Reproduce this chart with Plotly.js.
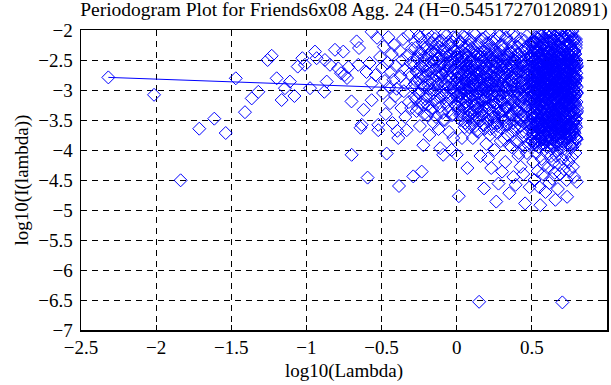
<!DOCTYPE html>
<html>
<head>
<meta charset="utf-8">
<script src="https://cdn.plot.ly/plotly-3.0.1.min.js"></script>
<style>html,body{margin:0;padding:0;background:#fff;}#chart{width:611px;height:385px;}</style>
</head>
<body>
<div id="chart"></div>
<script>
// Periodogram points, log10(Lambda) vs log10(I(lambda))
const lowX = [-2.318,-2.014,-1.837,-1.713,-1.613,-1.537,-1.47,-1.409,-1.364,-1.32,-1.258,-1.231,-1.198,-1.165,-1.143,-1.11,-1.08,-1.058,-1.027,-1.01,-0.976,-0.943,-0.932,-0.881,-0.865,-0.877,-0.843,-0.81,-0.788,-0.77,-0.755,-0.745,-0.73,-0.72,-0.7,-0.699,-0.666,-0.65,-0.655,-0.62,-0.632,-0.64,-0.593,-0.6,-0.58,-0.566,-0.566,-0.566,-0.54,-0.53,-0.522,-0.522,-0.51];
const lowY = [-2.79,-3.08,-4.505,-3.645,-3.478,-3.717,-2.805,-3.37,-3.14,-3.03,-2.5,-2.43,-2.805,-3.167,-2.97,-2.86,-3.1,-2.61,-2.47,-2.58,-2.97,-2.36,-2.47,-3.03,-2.86,-2.5,-2.58,-2.33,-2.64,-2.72,-2.36,-2.75,-2.8,-2.62,-3.19,-4.08,-2.19,-2.3,-2.58,-3.33,-3.58,-3.63,-4.46,-2.7,-2.55,-2.03,-2.89,-3.17,-2.75,-2.13,-3.58,-3.67,-2.45];

const midX = [-0.495,-0.49,-0.484,-0.478,-0.472,-0.466,-0.46,-0.455,-0.449,-0.444,-0.438,-0.432,-0.427,-0.421,-0.416,-0.41,-0.405,-0.4,-0.395,-0.389,-0.384,-0.378,-0.373,-0.368,-0.362,-0.357,-0.352,-0.347,-0.342,-0.337,-0.333,-0.327,-0.322,-0.318,-0.313,-0.308,-0.303,-0.299,-0.294,-0.289,-0.285,-0.28,-0.276,-0.271,-0.267,-0.262,-0.258,-0.254,-0.249,-0.245,-0.241,-0.237,-0.233,-0.229,-0.225,-0.222,-0.217,-0.213,-0.209,-0.205,-0.201,-0.197,-0.193,-0.189,-0.186,-0.182,-0.178,-0.174,-0.171,-0.167,-0.163,-0.16,-0.156,-0.153,-0.149,-0.145,-0.142,-0.138,-0.135,-0.131,-0.128,-0.124,-0.121,-0.118,-0.114,-0.11,-0.107,-0.104,-0.1,-0.097,-0.094,-0.09,-0.087,-0.084,-0.081,-0.078,-0.074,-0.071,-0.068,-0.065,-0.062,-0.059,-0.056,-0.053,-0.05,-0.047,-0.044,-0.041,-0.038,-0.034,-0.031,-0.028,-0.025,-0.023,-0.02,-0.017,-0.014,-0.011,-0.008,-0.005,-0.002,0.0];
const midY = [-2.62,-3.05,-2.28,-2.85,-3.4,-4.06,-2.55,-2.12,-2.95,-3.22,-2.7,-2.4,-3.55,-2.83,-2.25,-3.1,-2.6,-2.98,-3.68,-3.8,-4.6,-2.35,-2.77,-3.3,-2.5,-2.15,-3.02,-2.66,-3.45,-2.9,-3.67,-2.42,-2.08,-3.2,-2.73,-2.55,-3.3,-2.31,-2.95,-4.44,-2.6,-3.12,-2.2,-2.85,-3.35,-2.48,-2.7,-3.05,-2.38,-3.6,-2.12,-2.9,-4.36,-2.62,-3.25,-3.92,-2.45,-2.78,-3.15,-2.3,-2.58,-3.42,-2.05,-2.92,-2.68,-3.75,-2.4,-3.08,-2.55,-2.22,-3.3,-2.82,-2.5,-3.55,-2.66,-2.15,-3.0,-2.36,-2.76,-3.2,-2.48,-2.9,-3.65,-2.28,-2.6,-3.97,-3.12,-2.42,-2.72,-2.18,-3.38,-4.08,-2.56,-2.95,-2.32,-3.5,-2.68,-2.1,-3.05,-2.45,-2.84,-3.28,-2.6,-2.25,-3.7,-2.78,-2.4,-3.15,-2.52,-4.0,-2.9,-2.2,-3.4,-3.8,-2.65,-2.35,-3.02,-2.55,-3.25,-2.12,-2.8,-4.08];
// second set of ordinates for the upper part of midX (denser band near 0)
const midY2 = [-2.55,-2.9,-2.3,-3.15,-2.7,-2.45,-3.3,-2.1,-2.82,-3.05,
 -2.6,-2.38,-3.2,-2.75,-2.2,-2.95,-3.4,-2.5,-2.68,-3.1,
 -2.28,-2.85,-3.25,-2.42,-2.15,-2.98,-2.62,-3.35,-2.72,-2.35,
 -3.0,-2.52,-2.88,-2.08,-3.18,-2.65,-2.4,-3.45,-2.78,-2.25,
 -2.92,-3.12,-2.48,-2.7,-2.18,-3.28,-2.58,-2.85,-3.02,-2.32,
 -2.75,-3.5,-2.45,-2.62,-2.05,-3.08,-2.9,-2.38,-3.22,-2.68,
 -2.55,-2.95,-2.2,-3.35,-2.8,-2.42,-3.15,-2.6,-2.3,-2.98,
 -3.42,-2.72,-2.5,-2.12,-3.05,-2.85,-2.35,-3.25,-2.65,-2.88,
 -2.45,-3.1];

const upX = [0.005,0.008,0.011,0.014,0.017,0.02,0.023,0.026,0.029,0.032,0.035,0.038,0.041,0.044,0.047,0.05,0.053,0.056,0.059,0.062,0.065,0.068,0.071,0.074,0.077,0.08,0.083,0.086,0.089,0.092,0.095,0.098,0.101,0.104,0.107,0.11,0.113,0.116,0.119,0.122,0.125,0.128,0.131,0.134,0.137,0.14,0.143,0.146,0.149,0.152,0.155,0.158,0.161,0.164,0.167,0.17,0.173,0.176,0.179,0.182,0.185,0.188,0.191,0.194,0.197,0.2,0.203,0.206,0.209,0.212,0.215,0.218,0.221,0.224,0.227,0.23,0.233,0.236,0.239,0.242,0.245,0.248,0.251,0.254,0.257,0.26,0.263,0.266,0.269,0.272,0.275,0.278,0.281,0.284,0.287,0.29,0.293,0.296,0.299,0.302,0.305,0.308,0.311,0.314,0.317,0.32,0.323,0.326,0.329,0.332,0.335,0.338,0.341,0.344,0.347,0.35,0.353,0.356,0.359,0.362,0.365,0.368,0.371,0.374,0.377,0.38,0.383,0.386,0.389,0.392,0.395,0.398,0.401,0.404,0.407,0.41,0.413,0.416,0.419,0.422,0.425,0.428,0.431,0.434,0.437,0.44,0.443,0.446,0.449,0.452,0.455,0.458,0.461,0.464,0.467,0.47,0.473,0.476,0.479,0.482,0.485,0.488,0.491,0.494,0.497,0.5];
const upY = [-2.72,-3.15,-2.38,-4.77,-2.9,-2.55,-3.42,-2.2,-3.05,-2.65,
 -3.8,-2.45,-2.98,-2.3,-3.3,-2.75,-2.12,-3.55,-2.6,-2.88,
 -3.2,-2.42,-4.3,-2.7,-3.02,-2.25,-3.62,-2.52,-2.95,-2.18,
 -3.38,-2.8,-2.48,-3.1,-3.8,-2.62,-2.35,-3.25,-2.9,-2.08,
 -3.48,-2.7,-2.55,-3.05,-3.3,-2.4,-3.7,-2.85,-6.53,-3.18,
 -2.6,-4.1,-2.98,-2.45,-3.35,-2.15,-2.78,-3.58,-2.52,-4.64,
 -2.92,-2.32,-3.12,-2.68,-3.9,-2.22,-3.02,-2.58,-4.14,-2.85,
 -3.3,-2.42,-2.05,-3.65,-2.75,-4.3,-2.5,-3.08,-2.9,-2.3,
 -3.45,-2.62,-4.0,-2.8,-2.18,-3.22,-4.86,-2.55,-2.95,-3.6,
 -2.38,-4.56,-2.7,-3.15,-2.1,-2.48,-3.85,-2.88,-3.35,-4.36,
 -2.6,-2.25,-3.05,-2.78,-3.52,-2.42,-4.2,-2.95,-2.15,-3.28,
 -2.68,-3.75,-2.5,-2.02,-3.1,-4.72,-2.82,-2.35,-3.42,-2.6,
 -3.95,-2.72,-2.28,-3.18,-4.45,-2.9,-2.5,-3.62,-2.12,-4.58,
 -2.8,-3.3,-2.4,-3.88,-2.65,-4.1,-2.98,-2.22,-3.5,-2.7,
 -4.28,-2.55,-3.08,-2.35,-3.7,-2.85,-4.4,-2.6,-3.25,-2.18,
 -4.89,-2.92,-3.45,-2.48,-4.05,-2.75,-3.15,-2.3,-3.92,-2.62,
 -4.62,-3.02,-2.45,-3.58,-2.2,-2.85];
const upY2 = [-2.45,-2.95,-3.3,-2.6,-2.2,-3.05,-2.78,-3.5,-2.35,-2.88,
 -3.15,-2.52,-2.1,-3.4,-2.7,-2.98,-3.62,-2.4,-2.82,-3.2,
 -2.58,-2.28,-3.1,-3.45,-2.65,-2.92,-2.15,-3.35,-2.75,-2.5,
 -3.0,-3.58,-2.3,-2.85,-2.62,-3.25,-2.05,-2.95,-3.4,-2.55,
 -2.8,-3.12,-2.38,-3.68,-2.7,-2.25,-3.05,-2.9,-3.3,-2.45,
 -3.52,-2.68,-2.18,-3.0,-2.82,-3.42,-2.5,-3.18,-2.35,-2.95,
 -3.65,-2.6,-2.12,-3.28,-2.75,-3.02,-2.4,-3.48,-2.88,-2.22,
 -3.15,-2.65,-3.75,-2.52,-2.98,-2.3,-3.35,-2.72,-3.08,-2.48,
 -2.15,-3.55,-2.85,-2.62,-3.22,-2.38,-3.0,-3.7,-2.55,-2.92,
 -2.08,-3.38,-2.78,-3.1,-2.45,-3.62,-2.68,-2.25,-3.2,-2.9,
 -3.45,-2.58,-3.05,-2.32,-3.82,-2.75,-2.5,-3.3,-2.12,-2.95,
 -3.58,-2.65,-3.15,-2.4,-2.85,-3.92,-2.2,-3.0,-2.6,-3.4,
 -2.78,-3.25,-2.48,-3.68,-2.05,-2.92,-3.1,-2.55,-3.5,-2.35,
 -3.85,-2.72,-3.02,-2.28,-3.35,-2.62,-4.05,-2.88,-3.2,-2.45,
 -3.6,-2.15,-2.98,-3.78,-2.52,-3.12,-2.7,-3.45,-2.32,-3.95,
 -2.82,-3.05,-2.58,-3.72,-2.1,-3.28,-2.65,-3.55,-2.4,-3.88,
 -2.95,-3.18,-2.5,-3.65,-2.22,-3.02];
const upY3 = [-2.8,-3.1,-2.55,-3.35,-2.7,-2.95,-3.2,-2.45,-3.05,-2.62,
 -3.42,-2.75,-2.9,-3.15,-2.5,-3.3,-2.68,-2.85,-3.55,-2.4,
 -3.0,-2.78,-3.25,-2.58,-2.95,-3.45,-2.35,-3.12,-2.72,-2.88,
 -3.38,-2.52,-3.02,-2.65,-3.5,-2.82,-2.42,-3.18,-2.92,-3.6,
 -2.6,-3.08,-2.75,-3.32,-2.48,-2.98,-3.22,-2.7,-3.48,-2.38,
 -2.85,-3.12,-2.58,-3.4,-2.78,-3.0,-2.5,-3.28,-2.65,-3.58,
 -2.9,-2.45,-3.15,-2.72,-3.35,-2.6,-3.05,-2.82,-3.52,-2.32,
 -2.98,-3.25,-2.55,-3.42,-2.75,-3.1,-2.88,-2.4,-3.62,-2.68,
 -3.2,-2.52,-3.02,-2.8,-3.45,-2.62,-2.92,-3.3,-2.45,-3.55,
 -2.7,-3.08,-2.85,-3.38,-2.58,-3.18,-2.35,-3.0,-2.78,-3.5,
 -2.65,-3.22,-2.95,-2.48,-3.35,-2.82,-3.12,-2.6,-3.6,-2.72,
 -3.05,-2.42,-3.28,-2.9,-3.48,-2.55,-3.15,-2.75,-2.38,-3.4,
 -2.85,-3.02,-2.62,-3.55,-2.7,-3.2,-2.5,-3.32,-2.98,-2.8,
 -3.45,-2.58,-3.1,-2.68,-3.62,-2.4,-3.25,-2.88,-3.05,-2.52,
 -3.38,-2.75,-2.95,-3.5,-2.6,-3.15,-2.82,-3.42,-2.45,-3.0,
 -2.7,-3.28,-2.55,-3.58,-2.9,-3.08,-2.65,-3.35,-2.78,-3.2,
 -2.48,-3.52,-2.85,-3.12,-2.62,-3.4];

const topX = [0.502,0.5035,0.505,0.5065,0.508,0.5095,0.511,0.5125,0.514,0.5155,
 0.517,0.5185,0.52,0.5215,0.523,0.5245,0.526,0.5275,0.529,0.5305,
 0.532,0.5335,0.535,0.5365,0.538,0.5395,0.541,0.5425,0.544,0.5455,
 0.547,0.5485,0.55,0.5515,0.553,0.5545,0.556,0.5575,0.559,0.5605,
 0.562,0.5635,0.565,0.5665,0.568,0.5695,0.571,0.5725,0.574,0.5755,
 0.577,0.5785,0.58,0.5815,0.583,0.5845,0.586,0.5875,0.589,0.5905,
 0.592,0.5935,0.595,0.5965,0.598,0.5995,0.601,0.6025,0.604,0.6055,
 0.607,0.6085,0.61,0.6115,0.613,0.6145,0.616,0.6175,0.619,0.6205,
 0.622,0.6235,0.625,0.6265,0.628,0.6295,0.631,0.6325,0.634,0.6355,
 0.637,0.6385,0.64,0.6415,0.643,0.6445,0.646,0.6475,0.649,0.6505,
 0.652,0.6535,0.655,0.6565,0.658,0.6595,0.661,0.6625,0.664,0.6655,
 0.667,0.6685,0.67,0.6715,0.673,0.6745,0.676,0.6775,0.679,0.6805,
 0.682,0.6835,0.685,0.6865,0.688,0.6895,0.691,0.6925,0.694,0.6955,
 0.697,0.6985,0.7,0.7015,0.703,0.7045,0.706,0.7075,0.709,0.7105,
 0.712,0.7135,0.715,0.7165,0.718,0.7195,0.721,0.7225,0.724,0.7255,
 0.727,0.7285,0.73,0.7315,0.733,0.7345,0.736,0.7375,0.739,0.7405,
 0.742,0.7435,0.745,0.7465,0.748,0.7495,0.751,0.7525,0.754,0.7555,
 0.757,0.7585,0.76,0.7615,0.763,0.7645,0.766,0.7675,0.769,0.7705,
 0.772,0.7735,0.775,0.7765,0.778,0.7795,0.781,0.7825,0.784,0.7855,
 0.787,0.7885,0.79,0.7915,0.793,0.7945,0.796,0.7975,0.799,0.8005];
const topY = [-2.85,-3.4,-2.3,-3.72,-2.6,-4.2,-3.05,-2.45,-3.55,-2.75,
 -4.5,-2.95,-2.2,-3.3,-2.68,-3.85,-2.5,-3.12,-4.05,-2.38,
 -3.6,-2.82,-2.15,-3.45,-4.35,-2.7,-3.2,-2.55,-3.95,-2.9,
 -2.42,-3.65,-4.62,-3.0,-2.28,-3.5,-4.92,-2.62,-3.8,-2.78,
 -3.25,-2.1,-4.15,-2.95,-3.58,-2.48,-3.9,-2.72,-4.4,-3.1,
 -2.35,-3.7,-2.88,-4.25,-2.58,-3.38,-2.05,-3.82,-2.68,-4.7,
 -3.15,-2.45,-3.6,-2.92,-4.05,-2.25,-3.48,-2.78,-3.95,-2.55,
 -4.3,-3.02,-2.38,-3.75,-2.65,-3.28,-4.55,-2.12,-3.55,-2.85,
 -3.88,-2.5,-3.18,-2.02,-4.1,-2.75,-3.42,-2.3,-3.68,-4.48,
 -2.6,-3.08,-2.18,-3.92,-2.82,-3.35,-4.2,-2.48,-3.62,-2.95,
 -4.38,-2.4,-3.22,-4.83,-2.7,-3.78,-2.08,-3.5,-2.88,-4.02,
 -2.55,-3.12,-3.85,-2.28,-4.65,-2.98,-3.4,-2.15,-3.7,-2.62,
 -4.25,-2.8,-3.55,-2.35,-3.05,-4.4,-2.0,-3.3,-2.72,-3.9,
 -2.45,-3.65,-2.9,-4.15,-6.54,-2.58,-3.2,-2.12,-3.82,-2.68,
 -3.45,-4.32,-2.25,-3.0,-2.78,-3.72,-2.05,-4.08,-2.52,-3.35,
 -2.9,-3.6,-2.18,-4.5,-3.15,-4.78,-2.62,-3.88,-2.38,-3.25,
 -2.72,-4.2,-2.1,-3.52,-2.95,-3.78,-2.42,-4.35,-3.08,-2.25,
 -3.62,-2.6,-3.95,-2.02,-3.3,-4.12,-2.82,-3.45,-2.15,-3.75,
 -2.5,-4.28,-3.1,-2.35,-3.68,-2.88,-4.45,-3.2,-2.65,-3.9,
 -2.4,-3.55,-4.05,-2.78,-3.02,-2.2,-3.8,-2.55,-4.53,-3.3];
const topY2 = [-2.62,-3.15,-2.38,-3.48,-2.9,-3.72,-2.2,-3.05,-2.75,-3.38,
 -2.5,-3.88,-2.95,-2.3,-3.2,-2.68,-3.6,-2.12,-3.02,-3.42,
 -2.8,-2.45,-3.75,-3.1,-2.58,-3.3,-2.05,-2.88,-3.55,-2.7,
 -3.95,-2.35,-3.08,-2.78,-3.5,-2.18,-3.25,-2.6,-3.82,-2.92,
 -2.4,-3.62,-2.85,-3.18,-2.25,-3.45,-2.72,-3.0,-3.7,-2.52,
 -3.12,-2.88,-2.15,-3.58,-2.65,-3.9,-2.42,-3.22,-2.98,-2.3,
 -3.68,-2.55,-3.35,-2.08,-2.8,-3.48,-3.05,-2.62,-3.85,-2.38,
 -3.15,-2.75,-3.6,-2.22,-3.0,-2.5,-3.4,-2.92,-3.78,-2.68,
 -2.1,-3.28,-2.85,-3.55,-2.45,-3.1,-3.98,-2.58,-2.32,-3.65,
 -2.95,-3.2,-2.72,-3.42,-2.15,-3.82,-2.6,-3.05,-2.4,-3.5,
 -2.78,-3.7,-2.28,-3.18,-2.9,-3.35,-2.52,-4.1,-2.65,-3.02,
 -2.35,-3.58,-2.82,-3.25,-2.05,-3.9,-2.7,-3.12,-2.48,-3.45,
 -3.75,-2.58,-2.98,-3.32,-2.2,-3.62,-2.88,-2.42,-3.08,-3.52,
 -2.62,-3.85,-2.3,-3.15,-2.78,-3.4,-2.12,-2.95,-3.68,-2.55,
 -3.22,-2.85,-3.98,-2.38,-3.05,-2.68,-3.55,-2.18,-3.3,-2.92,
 -2.48,-3.72,-3.0,-2.6,-3.45,-2.25,-3.18,-2.8,-3.88,-2.4,
 -3.1,-2.72,-3.6,-2.02,-3.28,-2.9,-3.5,-2.55,-3.8,-2.32,
 -2.98,-3.38,-2.65,-3.15,-2.1,-3.68,-2.85,-3.02,-2.45,-3.95,
 -2.75,-3.25,-2.58,-3.55,-2.2,-3.42,-2.92,-3.12,-2.35,-3.78,
 -2.62,-3.08,-2.8,-3.48,-2.15,-3.62,-2.5,-3.2,-2.95,-3.35];
const topY3 = [-3.3,-2.55,-3.85,-2.78,-3.1,-2.4,-3.62,-2.95,-2.22,-3.45,
 -2.7,-3.18,-2.48,-3.92,-2.88,-3.05,-2.32,-3.55,-2.65,-3.25,
 -2.12,-3.72,-2.98,-2.58,-3.4,-2.82,-3.15,-2.38,-3.65,-2.75,
 -3.02,-2.28,-3.5,-2.92,-3.8,-2.6,-3.2,-2.45,-3.35,-2.08,
 -3.68,-2.8,-3.08,-2.52,-3.9,-2.7,-3.28,-2.18,-3.58,-2.95,
 -2.4,-3.45,-2.85,-3.12,-2.62,-3.75,-2.3,-3.0,-3.52,-2.55,
 -2.9,-3.38,-2.15,-3.65,-2.72,-3.22,-2.48,-3.95,-2.8,-3.05,
 -2.35,-3.6,-2.98,-3.15,-2.58,-3.42,-2.05,-3.82,-2.68,-3.28,
 -2.92,-3.5,-2.42,-3.08,-2.75,-3.7,-2.2,-3.32,-2.88,-3.58,
 -2.52,-3.18,-3.9,-2.65,-3.0,-2.3,-3.48,-2.82,-3.25,-2.1,
 -3.78,-2.6,-3.12,-2.95,-3.4,-2.38,-3.62,-2.72,-3.02,-2.45,
 -3.55,-2.85,-3.2,-2.25,-3.85,-2.68,-3.35,-2.92,-3.08,-2.5,
 -2.18,-3.65,-2.78,-3.45,-2.58,-3.15,-3.98,-2.4,-3.0,-2.8,
 -3.3,-2.62,-3.72,-2.32,-3.1,-2.9,-3.52,-2.12,-3.38,-2.7,
 -2.98,-3.6,-2.45,-3.22,-2.85,-3.8,-2.55,-3.05,-2.28,-3.48,
 -2.75,-3.18,-2.6,-3.92,-2.38,-3.3,-2.95,-3.58,-2.08,-3.12,
 -3.68,-2.52,-3.02,-2.82,-3.4,-2.2,-3.75,-2.65,-3.25,-2.9,
 -2.42,-3.55,-3.08,-2.72,-3.88,-2.3,-3.15,-2.58,-3.45,-2.02,
 -3.62,-2.88,-3.2,-2.48,-3.35,-2.78,-3.0,-2.15,-3.72,-2.68,
 -3.1,-2.4,-3.5,-2.92,-2.25,-3.82,-2.62,-3.38,-2.8,-3.05];
const topY4 = [-2.95,-3.45,-2.6,-3.78,-2.3,-3.2,-2.85,-3.6,-2.5,-3.05,
 -3.68,-2.42,-3.15,-2.75,-3.88,-2.55,-3.32,-2.2,-3.0,-3.55,
 -2.68,-3.4,-2.9,-2.35,-3.72,-3.1,-2.62,-3.5,-2.8,-3.25,
 -2.45,-3.85,-3.02,-2.72,-3.38,-2.28,-3.65,-2.92,-3.12,-2.58,
 -3.48,-2.82,-3.75,-2.4,-3.18,-2.65,-3.58,-2.98,-2.25,-3.3,
 -2.78,-3.62,-2.5,-3.08,-3.9,-2.7,-3.42,-2.35,-3.22,-2.88,
 -3.55,-2.6,-3.0,-3.8,-2.45,-3.35,-2.75,-3.15,-2.18,-3.68,
 -2.95,-3.28,-2.55,-3.5,-2.85,-3.72,-2.38,-3.05,-3.45,-2.68,
 -3.2,-2.9,-3.6,-2.3,-3.38,-2.78,-3.82,-2.52,-3.1,-2.98,
 -3.52,-2.62,-3.25,-2.42,-3.7,-2.82,-3.02,-3.42,-2.22,-3.58,
 -2.72,-3.15,-2.92,-3.65,-2.5,-3.32,-2.85,-3.88,-2.6,-3.08,
 -3.45,-2.35,-3.75,-2.95,-3.18,-2.7,-3.55,-2.48,-3.3,-2.8,
 -3.62,-2.58,-3.0,-3.4,-2.28,-3.78,-2.88,-3.12,-2.65,-3.5,
 -2.4,-3.22,-2.95,-3.68,-2.75,-3.35,-2.55,-3.85,-3.05,-2.32,
 -3.48,-2.85,-3.6,-2.62,-3.2,-2.98,-3.72,-2.45,-3.1,-2.78,
 -3.58,-2.52,-3.38,-2.9,-3.02,-2.7,-3.8,-2.38,-3.28,-2.6,
 -3.65,-2.82,-3.15,-2.48,-3.52,-2.92,-3.42,-2.25,-3.75,-2.68,
 -3.08,-2.58,-3.45,-2.88,-3.62,-2.35,-3.2,-2.75,-3.9,-2.55,
 -3.32,-2.95,-3.55,-2.42,-3.12,-2.8,-3.7,-2.62,-3.0,-3.4,
 -2.5,-3.25,-2.85,-3.6,-2.3,-3.48,-2.72,-3.05,-3.82,-2.6];

// Least-squares fit line endpoints (slope = 1 - 2H)
const fitX = [-2.318, 0.798];
const fitY = [-2.79, -3.071];

const xTicks = [-2.5,-2,-1.5,-1,-0.5,0,0.5,1];
const yTicks = [-7,-6.5,-6,-5.5,-5,-4.5,-4,-3.5,-3,-2.5,-2];

const midXhi = midX.slice(midX.length - midY2.length);
const allX = lowX.concat(midX, midXhi, upX, upX, upX, topX, topX, topX, topX);
const allY = lowY.concat(midY, midY2, upY, upY2, upY3, topY, topY2, topY3, topY4);

const font = 'Liberation Serif, Times New Roman, serif';
const fmt = v => (v < 0 ? '\u2212' : '') + Math.abs(v);

const traces = [
  {
    type: 'scatter', mode: 'markers', x: allX, y: allY,
    marker: {symbol: 'diamond-open', size: 10, color: '#0000ff', line: {width: 1, color: '#0000ff'}},
    hoverinfo: 'skip', showlegend: false
  },
  {
    type: 'scatter', mode: 'lines', x: fitX, y: fitY,
    line: {color: '#0000ff', width: 1}, showlegend: false
  }
];

const axisCommon = {
  showgrid: true, gridcolor: '#000000', gridwidth: 1, griddash: '6px,5px',
  zeroline: false, showline: true, linecolor: '#000000', linewidth: 1.5, mirror: 'ticks',
  ticks: 'inside', ticklen: 5, tickwidth: 1, tickcolor: '#000000',
  tickfont: {family: font, size: 19, color: '#000000'}
};

const layout = {
  width: 611, height: 385,
  margin: {l: 81, r: 4, t: 30, b: 55},
  paper_bgcolor: '#ffffff', plot_bgcolor: '#ffffff',
  font: {family: font, color: '#000000'},
  title: {
    text: 'Periodogram Plot for Friends6x08 Agg. 24 (H=0.54517270120891)',
    font: {family: font, size: 19.5, color: '#000000'},
    x: 0.5, xref: 'paper', xanchor: 'center',
    y: 0.975, yref: 'container', yanchor: 'middle'
  },
  xaxis: Object.assign({}, axisCommon, {
    range: [-2.5, 1], tickmode: 'array', tickvals: xTicks, ticktext: xTicks.map(fmt),
    title: {text: 'log10(Lambda)', font: {family: font, size: 19, color: '#000000'}, standoff: 6}
  }),
  yaxis: Object.assign({}, axisCommon, {
    range: [-7, -2], tickmode: 'array', tickvals: yTicks, ticktext: yTicks.map(fmt),
    ticklabelstandoff: 3,
    title: {text: 'log10(I(lambda))', font: {family: font, size: 19, color: '#000000'}, standoff: 4}
  })
};

Plotly.newPlot('chart', traces, layout, {staticPlot: true, displayModeBar: false});
</script>
</body>
</html>
